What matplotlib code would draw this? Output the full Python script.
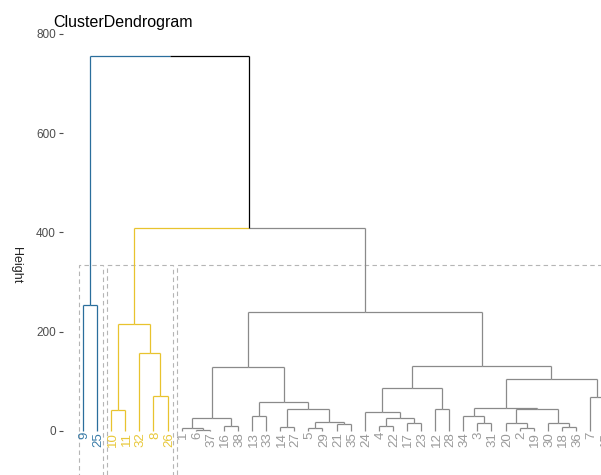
import matplotlib
matplotlib.use("Agg")
import matplotlib.pyplot as plt
from matplotlib.patches import Rectangle

# ---- data: hierarchical merges (R-style: negative = leaf id, positive = merge row) ----
merge_left = [-6, -1, -16, 2, -13, -14, -5, -21, 7, 6, 5, 4,
              -4, -17, 13, -24, -12, 16, -3, -34, -2, -20, -18, -30, 22, 20, -7, 26, 18, 12,
              -10, -8, -32, 31, 34, -9, 36]
merge_right = [-37, 1, -38, 3, -33, -27, -29, -35, 8, 9, 10, 11,
               -22, -23, 14, 15, -28, 17, -31, 19, -19, 21, -36, 23, 24, 25, -15, 27, 28, 29,
               -11, -26, 32, 33, 30, -25, 35]
merge_height = [2, 6, 10, 26, 30, 8, 6, 14, 18, 44, 58, 128,
                10, 16, 26, 38, 44, 86, 16, 30, 6, 16, 8, 16, 44, 46, 68, 104, 130, 239,
                42, 70, 156, 216, 408, 254, 756]
n_clusters = 3
cluster_colors = ["#2A6E9C", "#E8C32E", "#8A8A8A"]
label_colors = ["#3A7CA8", "#E8C83A", "#9A9A9A"]
yticks = [0, 200, 400, 600, 800]
title = "ClusterDendrogram"
ylabel = "Height"

# ---- layout of tree ----
n_merge = len(merge_height)
root = max(range(1, n_merge + 1), key=lambda m: merge_height[m - 1])
order = []
def collect(node):
    if node < 0:
        order.append(-node)
    else:
        collect(merge_left[node - 1]); collect(merge_right[node - 1])
collect(root)
leaf_x = {lab: i + 1 for i, lab in enumerate(order)}

node_x = {}
def xpos(node):
    if node < 0:
        return leaf_x[-node]
    if node not in node_x:
        node_x[node] = 0.5 * (xpos(merge_left[node - 1]) + xpos(merge_right[node - 1]))
    return node_x[node]
def ypos(node):
    return 0.0 if node < 0 else merge_height[node - 1]

# cluster roots: children of the top (k-1) merges by height
top_merges = sorted(range(1, n_merge + 1), key=lambda m: -merge_height[m - 1])[:n_clusters - 1]
roots = []
for m in top_merges:
    for c in (merge_left[m - 1], merge_right[m - 1]):
        if c not in top_merges:
            roots.append(c)
roots.sort(key=lambda r: xpos(r))
def leaves_of(node):
    if node < 0:
        return [-node]
    return leaves_of(merge_left[node - 1]) + leaves_of(merge_right[node - 1])
leaf_cluster = {}
for ci, r in enumerate(roots):
    for lf in leaves_of(r):
        leaf_cluster[lf] = ci
def node_color(node):
    cl = set(leaf_cluster[l] for l in leaves_of(node))
    return cluster_colors[cl.pop()] if len(cl) == 1 else "black"

# ---- figure ----
W, H = 601, 475
fig = plt.figure(figsize=(W / 100, H / 100), dpi=100)
ax = fig.add_axes([63 / W, 0, 1 - 63 / W, 445 / H])
ax.set_ylim(-89, 808)
ax.set_xlim(-0.42, 37.78)

lw = 0.9
for m in range(1, n_merge + 1):
    px, py = xpos(m), ypos(m)
    for c in (merge_left[m - 1], merge_right[m - 1]):
        cx, cy = xpos(c), ypos(c)
        col = node_color(c)
        ax.plot([px, cx], [py, py], color=col, lw=lw, solid_capstyle="butt")
        ax.plot([cx, cx], [py, cy], color=col, lw=lw, solid_capstyle="butt")

# leaf labels
for lab in order:
    ax.text(leaf_x[lab], -2, str(lab), rotation=90, rotation_mode="anchor",
            ha="right", va="center_baseline", fontsize=9.5, color=label_colors[leaf_cluster[lab]],
            family="Liberation Sans", clip_on=True)

# dashed cluster rectangles
rect_top = 334
for ci, r in enumerate(roots):
    lv = [leaf_x[l] for l in leaves_of(r)]
    x0, x1 = min(lv) - 0.3, max(lv) + 0.4
    ax.add_patch(Rectangle((x0, -120), x1 - x0, rect_top + 120, fill=False,
                           ec="#B5B5B5", lw=0.8, ls=(0, (4, 3))))

ax.set_yticks(yticks)
ax.set_yticklabels([str(v) for v in yticks], fontsize=8.5, color="#4D4D4D", family="Liberation Sans")
ax.set_xticks([])
ax.tick_params(axis="y", length=3, width=0.8, color="#4D4D4D", pad=2)
for s in ax.spines.values():
    s.set_visible(False)

fig.text(53 / W, 1 - 22 / H, title, fontsize=11.5, ha="left", va="center", family="Liberation Sans")
fig.text(16 / W, 1 - 265 / H, ylabel, fontsize=9, rotation=270, ha="center", va="center",
         color="#222222", family="Liberation Sans")

fig.savefig("out.png", dpi=100)
